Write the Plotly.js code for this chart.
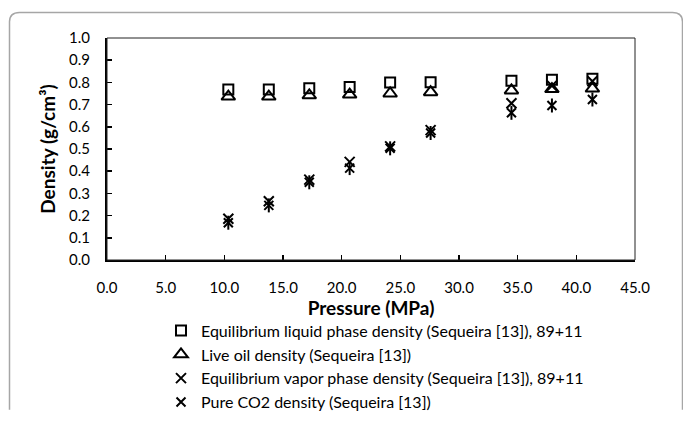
<!DOCTYPE html>
<html>
<head>
<meta charset="utf-8">
<script src="https://cdn.plot.ly/plotly-3.0.1.min.js"></script>
<style>
  html, body { margin: 0; padding: 0; background: #fff; }
  #chart { width: 683px; height: 432px; }
</style>
</head>
<body>
<div id="chart"></div>
<script>
// Pressure steps (MPa) and measured densities (g/cm3)
const pressure = [10.34, 13.79, 17.24, 20.68, 24.13, 27.58, 34.47, 37.92, 41.37];
const liquidDensity = [0.768, 0.768, 0.774, 0.779, 0.799, 0.801, 0.807, 0.812, 0.817];
const liveOilDensity = [0.736, 0.736, 0.742, 0.745, 0.750, 0.756, 0.764, 0.770, 0.772];
const vaporDensity = [0.186, 0.265, 0.362, 0.442, 0.512, 0.585, 0.706, 0.785, 0.805];
const co2Density = [0.168, 0.246, 0.350, 0.414, 0.503, 0.572, 0.663, 0.696, 0.723];

const seriesNames = [
  'Equilibrium liquid phase density (Sequeira [13]), 89+11',
  'Live oil density (Sequeira [13])',
  'Equilibrium vapor phase density (Sequeira [13]), 89+11',
  'Pure CO2 density (Sequeira [13])'
];
const xTickVals = [0, 5, 10, 15, 20, 25, 30, 35, 40, 45];
const xTickText = ['0.0', '5.0', '10.0', '15.0', '20.0', '25.0', '30.0', '35.0', '40.0', '45.0'];
const yTickVals = [0, 0.1, 0.2, 0.3, 0.4, 0.5, 0.6, 0.7, 0.8, 0.9, 1.0];
const yTickText = ['0.0', '0.1', '0.2', '0.3', '0.4', '0.5', '0.6', '0.7', '0.8', '0.9', '1.0'];

const FONT = 'Lato, "Open Sans", sans-serif';
const black = '#000000';

function pts(y, name, symbol, size, extra) {
  return Object.assign({
    type: 'scatter', mode: 'markers', x: pressure, y: y, name: name,
    marker: { symbol: symbol, size: size, color: black, line: { color: black, width: 2 } },
    hoverinfo: 'x+y'
  }, extra || {});
}

const traces = [
  pts(liquidDensity, seriesNames[0], 'square-open', 10),
  pts(liveOilDensity, seriesNames[1], 'triangle-up-open', 12),
  pts(vaporDensity, seriesNames[2], 'x-thin-open', 10),
  pts(co2Density, seriesNames[3], 'x-thin-open', 9, { legendgroup: 'co2' }),
  // vertical stroke completing the star marker for pure CO2
  pts(co2Density, seriesNames[3], 'line-ns-open', 10, { legendgroup: 'co2', showlegend: false })
];

// plot area geometry in pixels, used to place the outer frame in paper units
const W = 683, H = 432, L = 107, R = 48, T = 38, B = 154;
const pw = W - L - R, ph = H - T - B;
const px = v => (v - L) / pw;
const py = v => (H - B - v) / ph;
const x0 = px(9.5), x1 = px(682.5), y0 = py(10.5), y1 = py(440), rr = 10;
const framePath = `M ${x0} ${y1} L ${x0} ${py(10.5 + rr)} Q ${x0} ${y0} ${px(9.5 + rr)} ${y0} ` +
  `L ${px(682.5 - rr)} ${y0} Q ${x1} ${y0} ${x1} ${py(10.5 + rr)} L ${x1} ${y1}`;

const layout = {
  width: W, height: H,
  margin: { l: L, r: R, t: T, b: B, pad: 0 },
  paper_bgcolor: '#ffffff', plot_bgcolor: '#ffffff',
  font: { family: FONT, size: 15, color: black },
  showlegend: true,
  legend: {
    x: px(161), xanchor: 'left', y: py(336), yanchor: 'top',
    font: { family: FONT, size: 16, color: black },
    bgcolor: 'rgba(0,0,0,0)', borderwidth: 0,
    itemwidth: 30, tracegroupgap: 0
  },
  xaxis: {
    range: [0, 45], tickvals: xTickVals, ticktext: xTickText,
    ticks: 'inside', ticklen: 5, tickwidth: 1.5, tickcolor: black,
    showline: true, linecolor: black, linewidth: 2, mirror: false,
    showgrid: false, zeroline: false, ticklabelstandoff: 13,
    tickfont: { family: FONT, size: 15, color: black },
    title: { text: 'Pressure (MPa)', font: { family: FONT, size: 19, color: black, weight: 'bold' }, standoff: 6 }
  },
  yaxis: {
    range: [0, 1], tickvals: yTickVals, ticktext: yTickText,
    ticks: 'inside', ticklen: 5, tickwidth: 1.5, tickcolor: black,
    showline: true, linecolor: black, linewidth: 2, mirror: false,
    showgrid: false, zeroline: false, ticklabelstandoff: 12,
    tickfont: { family: FONT, size: 15, color: black },
    title: { text: 'Density (g/cm³)', font: { family: FONT, size: 19, color: black, weight: 'bold' }, standoff: 8 }
  },
  shapes: [
    { type: 'rect', xref: 'paper', yref: 'paper', x0: 0, x1: 1, y0: 0, y1: 1,
      line: { color: '#222222', width: 1 }, layer: 'above' },
    { type: 'path', xref: 'paper', yref: 'paper', path: framePath,
      line: { color: '#a6a6a6', width: 1.5 } }
  ]
};

Plotly.newPlot('chart', traces, layout, { staticPlot: true, displayModeBar: false });
</script>
</body>
</html>
